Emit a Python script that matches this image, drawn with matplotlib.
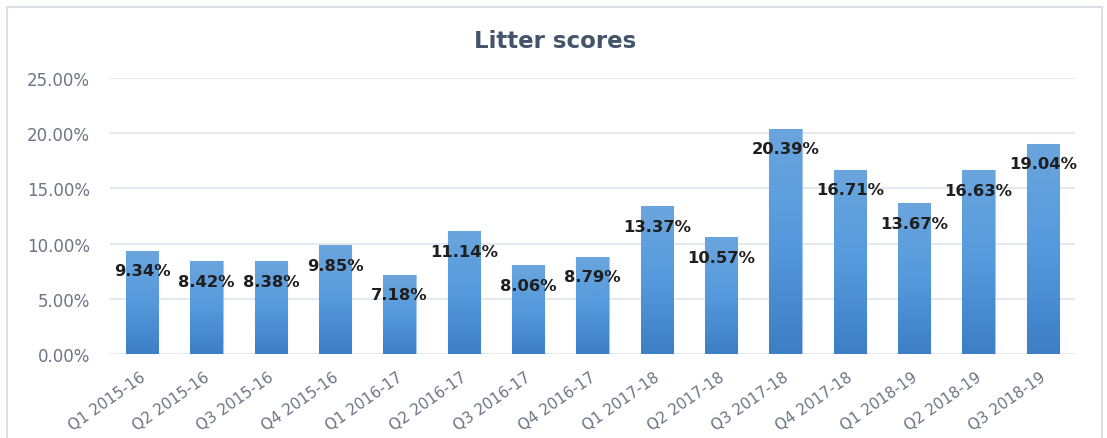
import numpy as np
import matplotlib
matplotlib.use("Agg")
import matplotlib.pyplot as plt
import matplotlib.transforms as mtransforms
from matplotlib.patches import Rectangle
from matplotlib.colors import LinearSegmentedColormap
from matplotlib.ticker import FuncFormatter, MultipleLocator

categories = ["Q1 2015-16", "Q2 2015-16", "Q3 2015-16", "Q4 2015-16",
              "Q1 2016-17", "Q2 2016-17", "Q3 2016-17", "Q4 2016-17",
              "Q1 2017-18", "Q2 2017-18", "Q3 2017-18", "Q4 2017-18",
              "Q1 2018-19", "Q2 2018-19", "Q3 2018-19"]
scores = [9.34, 8.42, 8.38, 9.85, 7.18, 11.14, 8.06, 8.79,
          13.37, 10.57, 20.39, 16.71, 13.67, 16.63, 19.04]
title = "Litter scores"

W, H = 1107, 439
fig = plt.figure(figsize=(W / 100, H / 100), dpi=100)
fig.patch.set_facecolor("white")

# outer chart border (bottom edge lies outside the image)
fig.add_artist(Rectangle((7 / W, -0.05), (1102 - 7) / W, 1 - 8 / H + 0.05,
                         transform=fig.transFigure, fill=False,
                         edgecolor="#dcdfe3", linewidth=1.5))

ax = fig.add_axes([110 / W, (H - 355) / H, (1075 - 110) / W, (355 - 79) / H])
x = np.arange(len(categories))
bars = ax.bar(x, scores, width=0.5, color="#5b9bd5", edgecolor="#a3c6ea",
              linewidth=0.8, zorder=2)

grad = np.linspace(0, 1, 256).reshape(-1, 1)
cmap = LinearSegmentedColormap.from_list("g", ["#3d7ec5", "#559add", "#6ba5dd"])
for b in bars:
    x0, y0 = b.get_x(), b.get_y()
    w, h = b.get_width(), b.get_height()
    im = ax.imshow(grad, extent=(x0, x0 + w, y0, y0 + h), origin="lower",
                   cmap=cmap, aspect="auto", zorder=2.5)
    im.set_clip_path(b)

for xi, v in zip(x, scores):
    ax.annotate(f"{v:.2f}%", (xi, v), xytext=(0, -20), textcoords="offset pixels",
                ha="center", va="center", fontsize=11.8, fontweight="bold",
                color="#1f1f1f", family="DejaVu Sans", zorder=4)

ax.set_xlim(-0.5, len(categories) - 0.5)
ax.set_ylim(0, 25)
ax.yaxis.set_major_locator(MultipleLocator(5))
ax.yaxis.set_major_formatter(FuncFormatter(lambda v, p: f"{v:.2f}%"))
ax.grid(axis="y", color="#e3e6ea", linewidth=1.3, zorder=0)
ax.set_axisbelow(True)
for s in ax.spines.values():
    s.set_visible(False)
ax.tick_params(axis="both", length=0, labelcolor="#6b7583")
ax.tick_params(axis="y", pad=14.4, labelsize=12)
ax.tick_params(axis="x", pad=10.5, labelsize=11)
ax.set_xticks(x)
ax.set_xticklabels(categories, rotation=35, ha="right", va="top",
                   rotation_mode="anchor", family="DejaVu Sans")
shift = mtransforms.ScaledTranslation(-3 / 100, 0, fig.dpi_scale_trans)
for t in ax.get_xticklabels():
    t.set_transform(t.get_transform() + shift)
for t in ax.get_yticklabels():
    t.set_family("DejaVu Sans")

fig.text(555 / W, 1 - 42 / H, title, ha="center", va="center", fontsize=16.5,
         fontweight="bold", color="#44546a", family="DejaVu Sans")

fig.savefig("out.png", dpi=100)
